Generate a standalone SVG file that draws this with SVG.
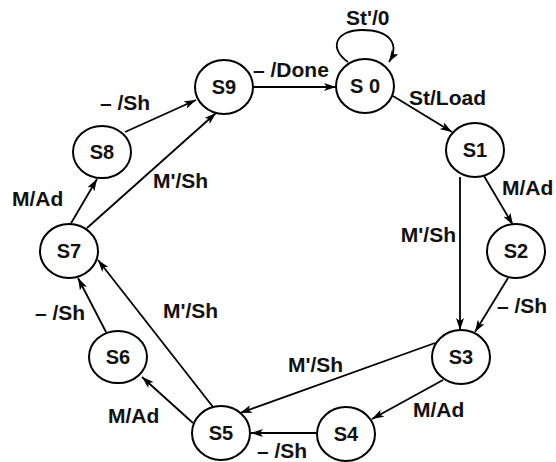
<svg xmlns="http://www.w3.org/2000/svg" width="556" height="462" viewBox="0 0 556 462">
<defs>
<marker id="ah" viewBox="0 0 12 8" refX="12" refY="4" markerWidth="12" markerHeight="8" markerUnits="userSpaceOnUse" orient="auto">
<path d="M0,0 L12,4 L0,8 L3,4 Z" fill="#000"/>
</marker>
</defs>
<style>
.node ellipse{fill:#fff;stroke:#000;stroke-width:2}
.node text{font-family:"Liberation Sans",Arial,sans-serif;font-weight:bold;font-size:20px;text-anchor:middle;fill:#111}
.edges line,.edges path{stroke:#000;stroke-width:1.8;fill:none;marker-end:url(#ah)}
.lbl{font-family:"Liberation Sans",Arial,sans-serif;font-weight:bold;font-size:21px;fill:#111}
</style>
<rect width="556" height="462" fill="#fff"/>
<g class="edges">
<line x1="253" y1="87" x2="336" y2="87"/>
<path d="M348,62 C328,48 336,30 362,30 C390,30 400,44 389,62"/>
<line x1="393" y1="96" x2="452" y2="132"/>
<line x1="484" y1="176" x2="513" y2="225"/>
<line x1="460" y1="177" x2="460" y2="330"/>
<line x1="508" y1="278" x2="475" y2="332"/>
<line x1="443" y1="380" x2="372" y2="419"/>
<line x1="317" y1="433" x2="251" y2="433"/>
<line x1="435" y1="343" x2="240" y2="413"/>
<line x1="193" y1="423" x2="142" y2="377"/>
<line x1="213" y1="407" x2="98" y2="260"/>
<line x1="106" y1="332" x2="78" y2="278"/>
<line x1="70" y1="225" x2="97" y2="179"/>
<line x1="87" y1="228" x2="216" y2="113"/>
<line x1="125" y1="132" x2="196" y2="100"/>
</g>
<g class="labels">
<text class="lbl" x="253" y="77">– /Done</text>
<text class="lbl" x="346" y="25">St'/0</text>
<text class="lbl" x="409" y="105">St/Load</text>
<text class="lbl" x="502" y="195">M/Ad</text>
<text class="lbl" x="456" y="242" text-anchor="end">M'/Sh</text>
<text class="lbl" x="497" y="313">– /Sh</text>
<text class="lbl" x="413" y="417">M/Ad</text>
<text class="lbl" x="257" y="458">– /Sh</text>
<text class="lbl" x="288" y="372">M'/Sh</text>
<text class="lbl" x="108" y="423">M/Ad</text>
<text class="lbl" x="163" y="318">M'/Sh</text>
<text class="lbl" x="35" y="320">– /Sh</text>
<text class="lbl" x="12" y="206">M/Ad</text>
<text class="lbl" x="153" y="188">M'/Sh</text>
<text class="lbl" x="100" y="110">– /Sh</text>
</g>
<g id="S0" class="node"><ellipse cx="365" cy="86" rx="29" ry="27"/><text x="365" y="93">S 0</text></g>
<g id="S1" class="node"><ellipse cx="475" cy="150" rx="29" ry="27"/><text x="475" y="157">S1</text></g>
<g id="S2" class="node"><ellipse cx="516" cy="251" rx="29" ry="27"/><text x="516" y="258">S2</text></g>
<g id="S3" class="node"><ellipse cx="461" cy="357" rx="29" ry="27"/><text x="461" y="364">S3</text></g>
<g id="S4" class="node"><ellipse cx="346" cy="434" rx="29" ry="27"/><text x="346" y="441">S4</text></g>
<g id="S5" class="node"><ellipse cx="221" cy="433" rx="29" ry="27"/><text x="221" y="440">S5</text></g>
<g id="S6" class="node"><ellipse cx="118" cy="357" rx="29" ry="26"/><text x="118" y="364">S6</text></g>
<g id="S7" class="node"><ellipse cx="69" cy="251" rx="29" ry="27"/><text x="69" y="258">S7</text></g>
<g id="S8" class="node"><ellipse cx="102" cy="152" rx="29" ry="26"/><text x="102" y="159">S8</text></g>
<g id="S9" class="node"><ellipse cx="224" cy="87" rx="29" ry="27"/><text x="224" y="94">S9</text></g>
</svg>
